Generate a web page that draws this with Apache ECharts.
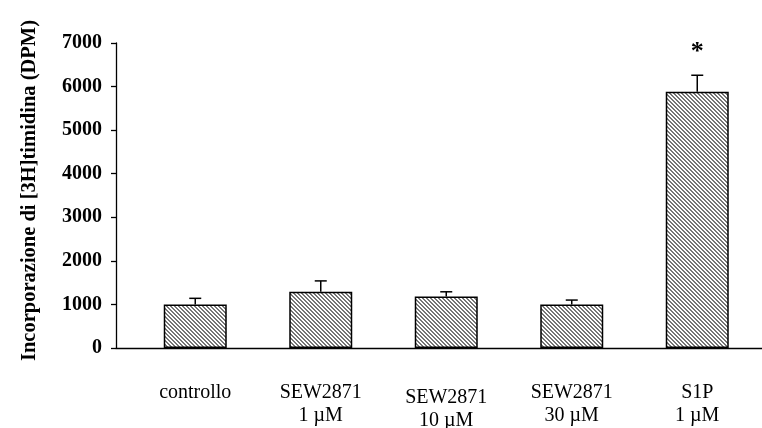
<!DOCTYPE html>
<html>
<head>
<meta charset="utf-8">
<script src="https://cdn.jsdelivr.net/npm/echarts@6/dist/echarts.min.js"></script>
<style>
html,body{margin:0;padding:0;background:#fff;}
#chart{width:762px;height:428px;}
</style>
</head>
<body>
<div id="chart"></div>
<script>
var categories = ['controllo', 'SEW2871\n1 µM', 'SEW2871\n10 µM', 'SEW2871\n30 µM', 'S1P\n1 µM'];
var means = [1000, 1290, 1180, 1000, 5880];
var errors = [140, 250, 110, 100, 380];
var marks = ['', '', '', '', '*'];
var yAxisTitle = 'Incorporazione di [3H]timidina (DPM)';

// hatch pattern
var pc = document.createElement('canvas');
pc.width = 4; pc.height = 4;
var pctx = pc.getContext('2d');
pctx.fillStyle = '#ffffff';
pctx.fillRect(0, 0, 4, 4);
pctx.fillStyle = '#767676';
for (var y = 0; y < 4; y++) {
  for (var x = 0; x < 4; x++) {
    var d = ((x - y) % 4 + 4) % 4;
    if (d === 0 || d === 1) pctx.fillRect(x, y, 1, 1);
  }
}

var serif = '"Liberation Serif", "DejaVu Serif", serif';
var chart = echarts.init(document.getElementById('chart'));

var catData = categories.map(function (c, i) {
  if (i === 2) return { value: c, textStyle: { padding: [5, 0, 0, 0] } };
  return c;
});

chart.setOption({
  animation: false,
  backgroundColor: '#fff',
  grid: [
    { left: 132.5, right: 2, top: 43, bottom: 80, containLabel: false, outerBoundsMode: 'none' },
    { left: 116, right: 0, top: 43, bottom: 80, containLabel: false, outerBoundsMode: 'none' }
  ],
  xAxis: [
    {
      type: 'category', gridIndex: 0, data: catData,
      axisLine: { show: false },
      axisTick: { show: false },
      axisLabel: { margin: 33, fontFamily: serif, fontSize: 20, color: '#000', lineHeight: 23, interval: 0 }
    },
    {
      type: 'value', gridIndex: 1, min: 0, max: 1,
      axisLine: { show: true, lineStyle: { color: '#000', width: 1.3 } },
      axisTick: { show: false }, axisLabel: { show: false }, splitLine: { show: false }
    }
  ],
  yAxis: [
    {
      type: 'value', gridIndex: 0, min: 0, max: 7000, interval: 1000,
      offset: 16.5,
      name: yAxisTitle, nameLocation: 'middle', nameGap: 76,
      nameTextStyle: { fontFamily: serif, fontSize: 20.5, fontWeight: 'bold', color: '#000', padding: [0, 0, 0, 10] },
      axisLine: { show: true, lineStyle: { color: '#000', width: 1.3 } },
      axisTick: { show: true, inside: false, length: 5, lineStyle: { color: '#000', width: 1.3 } },
      axisLabel: { margin: 14, fontFamily: serif, fontSize: 20, fontWeight: 'bold', color: '#000',
        formatter: function (v) { return String(v); } },
      splitLine: { show: false }
    },
    { type: 'value', gridIndex: 1, show: false, min: 0, max: 1 }
  ],
  series: [
    {
      type: 'bar', xAxisIndex: 0, yAxisIndex: 0,
      data: means, barWidth: 63,
      itemStyle: { color: { image: pc, repeat: 'repeat' }, borderColor: '#000', borderWidth: 1.5 }
    },
    {
      type: 'custom', xAxisIndex: 0, yAxisIndex: 0,
      data: means.map(function (m, i) { return [i, m, errors[i]]; }),
      z: 5,
      renderItem: function (params, api) {
        var i = api.value(0);
        var top = api.coord([i, api.value(1) + api.value(2)]);
        var base = api.coord([i, api.value(1)]);
        var half = 6;
        var children = [
          { type: 'line', shape: { x1: top[0], y1: base[1], x2: top[0], y2: top[1] }, style: { stroke: '#000', lineWidth: 1.5 } },
          { type: 'line', shape: { x1: top[0] - half, y1: top[1], x2: top[0] + half, y2: top[1] }, style: { stroke: '#000', lineWidth: 1.5 } }
        ];
        if (marks[i]) {
          children.push({ type: 'text', style: { text: marks[i], x: top[0], y: top[1] - 10, align: 'center', verticalAlign: 'bottom', font: 'bold 26px ' + serif, fill: '#000' } });
        }
        return { type: 'group', children: children };
      }
    }
  ]
});
</script>
</body>
</html>
